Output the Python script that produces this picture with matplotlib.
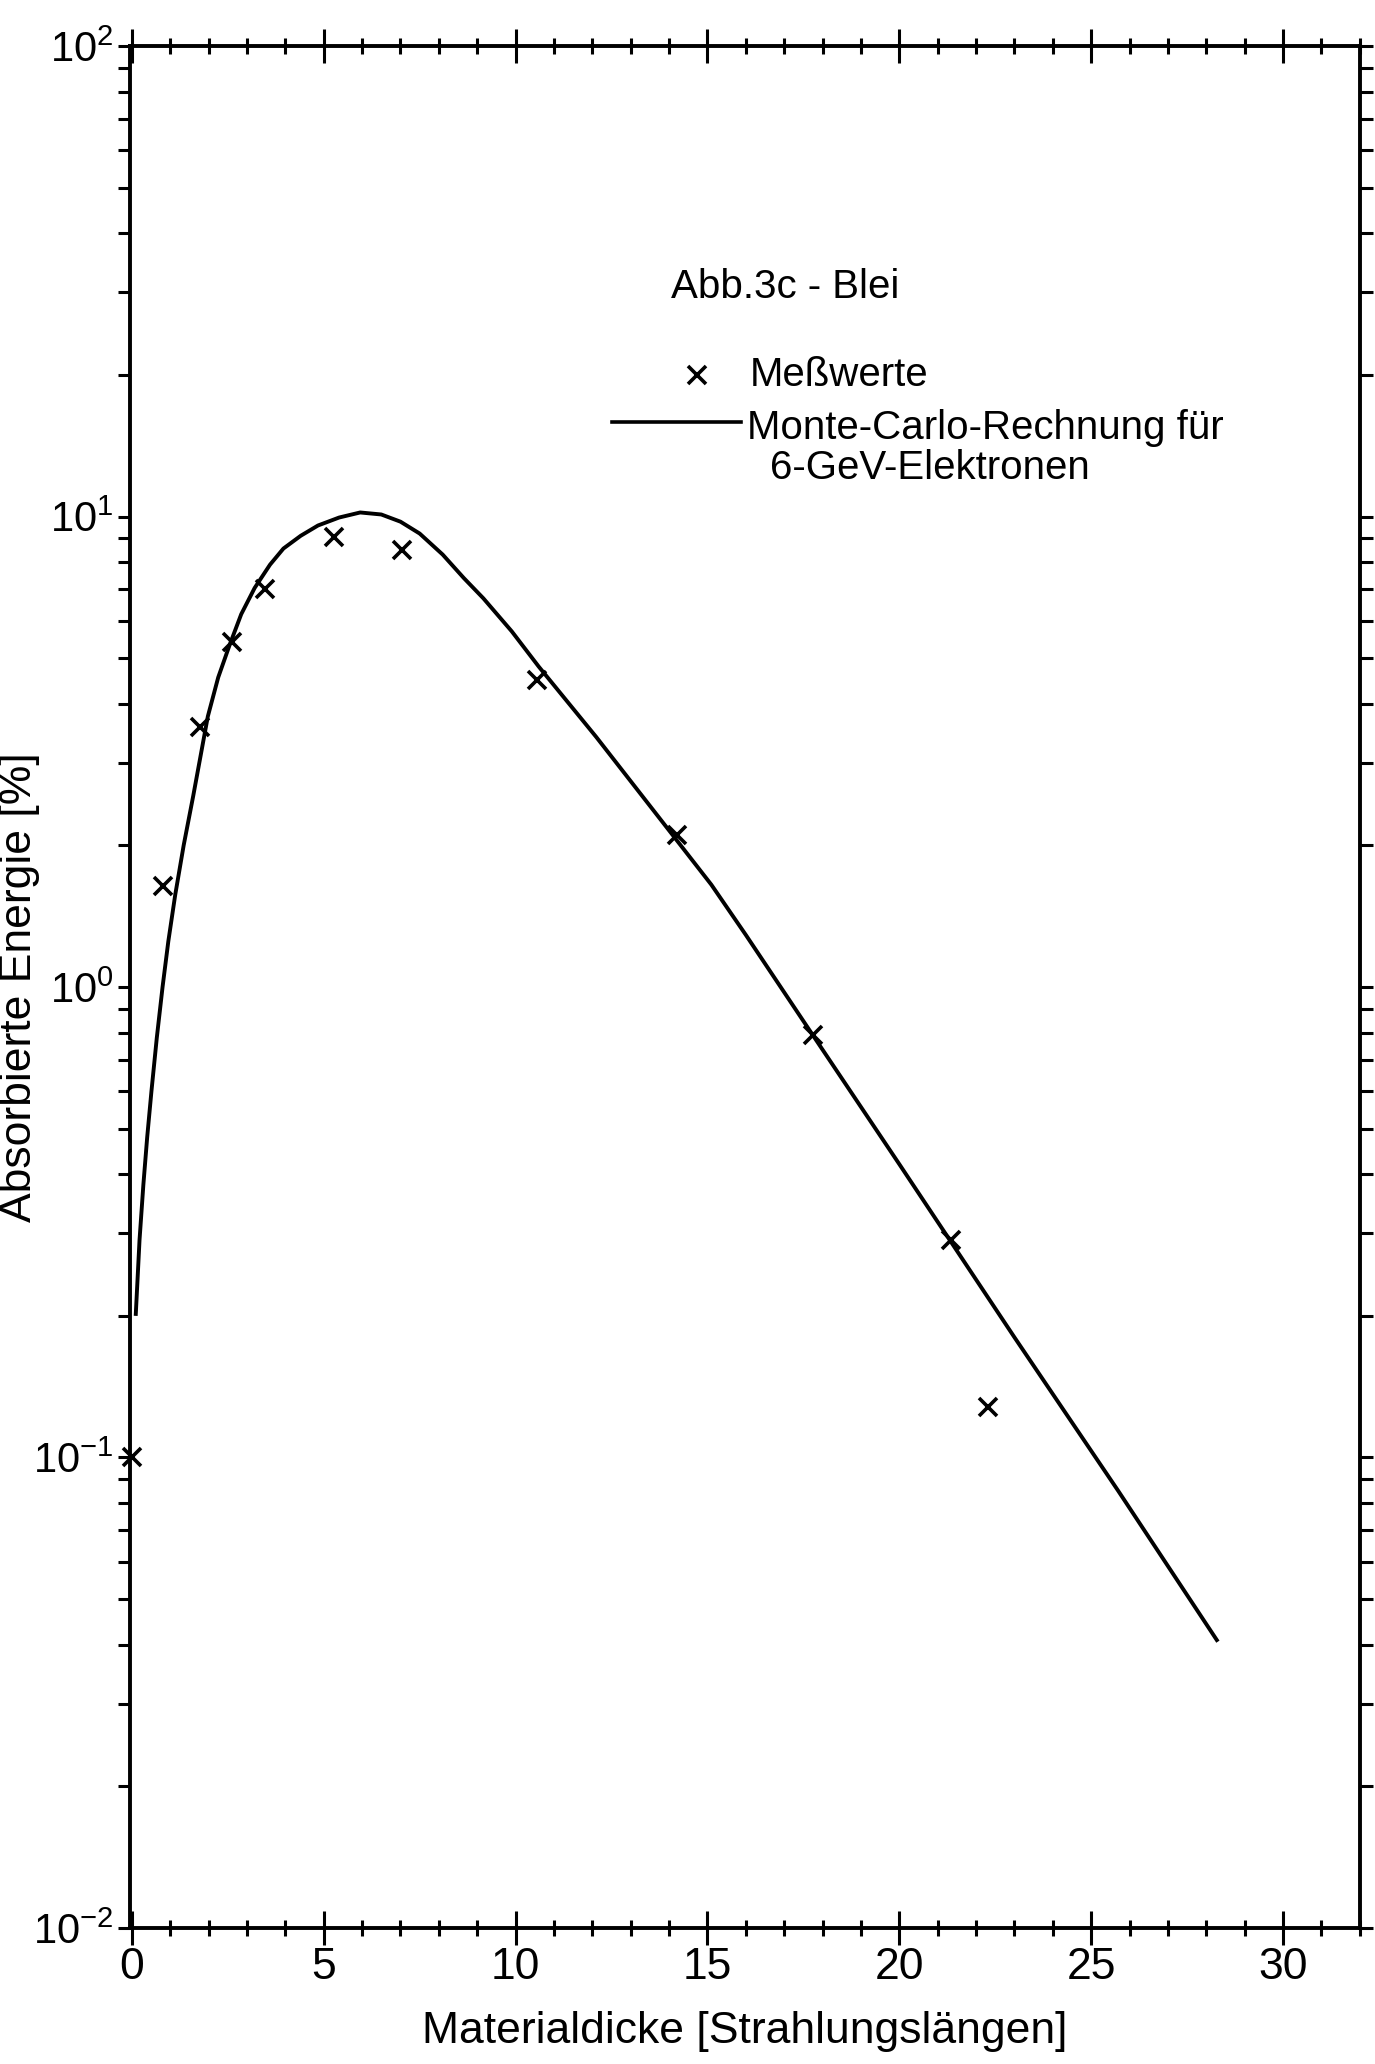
import numpy as np
import matplotlib
matplotlib.use('Agg')
import matplotlib.pyplot as plt
from matplotlib.ticker import FixedLocator, LogLocator, NullFormatter, FixedFormatter

FONT = ['Liberation Sans', 'DejaVu Sans']

# measured values (thickness in radiation lengths, absorbed energy in %)
mess_x = [0.0, 0.82, 1.77, 2.6, 3.47, 5.27, 7.05, 10.55, 14.2, 17.75, 21.35, 22.3]
mess_y = [0.1, 1.64, 3.57, 5.41, 7.02, 9.06, 8.5, 4.5, 2.1, 0.79, 0.29, 0.128]

# Monte-Carlo curve
mc_x = [0.1, 0.2, 0.3, 0.4, 0.51, 0.65, 0.8, 0.95, 1.13, 1.35, 1.6, 1.98,
        2.25, 2.55, 2.85, 3.2, 3.6, 3.95, 4.4, 4.85, 5.4, 5.95, 6.5, 7.0,
        7.5, 8.1, 8.65, 9.16, 9.9, 10.6, 12.1, 14.1, 15.1, 16.0, 17.7, 20.0,
        23.0, 25.7, 28.3]
mc_y = [0.2, 0.29, 0.38, 0.48, 0.6, 0.78, 1.0, 1.25, 1.57, 2.0, 2.55, 3.76,
        4.55, 5.34, 6.2, 7.05, 7.9, 8.55, 9.1, 9.57, 9.95, 10.2, 10.1, 9.75,
        9.2, 8.3, 7.4, 6.7, 5.7, 4.8, 3.4, 2.1, 1.65, 1.29, 0.8, 0.42,
        0.18, 0.085, 0.0406]

x_ticks = [0, 5, 10, 15, 20, 25, 30]
y_ticks = [1e-2, 1e-1, 1e0, 1e1, 1e2]
y_labels = [r'$\mathregular{10^{-2}}$', r'$\mathregular{10^{-1}}$',
            r'$\mathregular{10^{0}}$', r'$\mathregular{10^{1}}$',
            r'$\mathregular{10^{2}}$']

plt.rcParams['font.family'] = FONT
plt.rcParams['mathtext.fontset'] = 'custom'
plt.rcParams['mathtext.rm'] = 'Liberation Sans'

fig = plt.figure(figsize=(13.75, 20.64), dpi=100)
ax = fig.add_axes([0.0945, 0.0659, 0.8945, 0.9118])

ax.plot(mc_x, mc_y, color='black', lw=2.8, solid_capstyle='butt',
        solid_joinstyle='round')
ax.plot(mess_x, mess_y, 'x', color='black', ms=13, mew=2.6, clip_on=False)

ax.set_yscale('log')
ax.set_xlim(-0.05, 32)
ax.set_ylim(1e-2, 1e2)

ax.xaxis.set_major_locator(FixedLocator(x_ticks))
ax.xaxis.set_minor_locator(FixedLocator(range(0, 33)))
ax.yaxis.set_major_locator(FixedLocator(y_ticks))
ax.yaxis.set_major_formatter(FixedFormatter(y_labels))
ax.yaxis.set_minor_locator(LogLocator(base=10, subs=range(2, 10)))
ax.yaxis.set_minor_formatter(NullFormatter())

ax.tick_params(axis='x', which='both', top=True, direction='inout',
               labelsize=32, pad=2, width=2.2)
ax.tick_params(axis='x', which='major', length=24)
ax.tick_params(axis='x', which='minor', length=12)
ax.tick_params(axis='y', which='both', right=True, direction='out',
               labelsize=30, pad=3, width=2.2, length=9)

for s in ax.spines.values():
    s.set_linewidth(2.8)

ax.set_xlabel('Materialdicke [Strahlungslängen]', fontsize=32)
ax.xaxis.set_label_coords(0.5, -0.044)
ax.set_ylabel('Absorbierte Energie [%]', fontsize=32)
ax.yaxis.set_label_coords(-0.073, 0.5)

# legend block
ax.text(0.44, 0.872, 'Abb.3c - Blei', transform=ax.transAxes, fontsize=29,
        va='center', ha='left')
ax.plot([0.461], [0.825], 'x', color='black', ms=13, mew=2.6,
        transform=ax.transAxes)
ax.text(0.504, 0.825, 'Meßwerte', transform=ax.transAxes, fontsize=29,
        va='center', ha='left')
ax.plot([0.392, 0.497], [0.800, 0.800], color='black', lw=2.6,
        transform=ax.transAxes)
ax.text(0.502, 0.797, 'Monte-Carlo-Rechnung für', transform=ax.transAxes,
        fontsize=29, va='center', ha='left')
ax.text(0.52, 0.776, '6-GeV-Elektronen', transform=ax.transAxes,
        fontsize=29, va='center', ha='left')

fig.savefig('out.png', dpi=100)
